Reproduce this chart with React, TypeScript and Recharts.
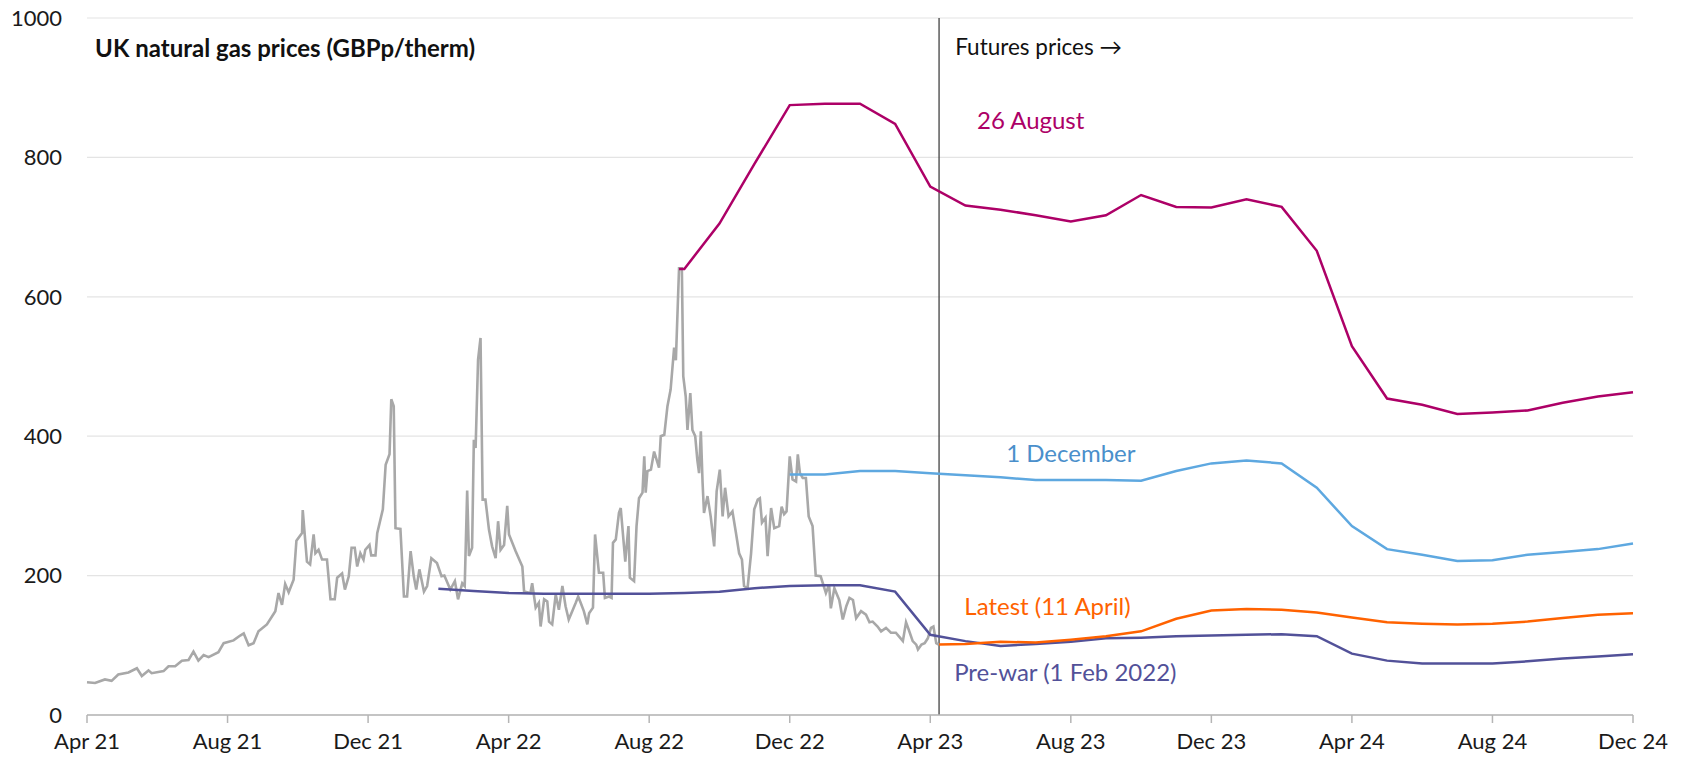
import { LineChart, Line, XAxis, YAxis, CartesianGrid, ReferenceLine, ReferenceDot } from 'recharts'

// x = months since Apr 2021, y = GBPp/therm
const tickLabels = ['Apr 21', 'Aug 21', 'Dec 21', 'Apr 22', 'Aug 22', 'Dec 22', 'Apr 23', 'Aug 23', 'Dec 23', 'Apr 24', 'Aug 24', 'Dec 24']
const yTicks = [0, 200, 400, 600, 800, 1000]
const futuresStart = 24.25

const spot: [number, number][] = [
  [0, 47], [0.23, 46], [0.51, 51], [0.7, 49], [0.89, 58], [1.18, 61], [1.42, 67], [1.56, 56], [1.75, 64], [1.84, 60],
  [2.18, 63], [2.32, 70], [2.51, 70], [2.7, 78], [2.89, 79], [3.03, 91], [3.17, 78], [3.32, 86], [3.46, 83], [3.74, 90],
  [3.89, 103], [4.17, 107], [4.36, 114], [4.46, 117], [4.6, 100], [4.74, 103], [4.88, 120], [5.12, 130], [5.36, 149],
  [5.45, 175], [5.55, 158], [5.64, 188], [5.74, 176], [5.88, 194], [5.96, 250],
  [6.12, 261], [6.14, 294], [6.26, 220], [6.35, 216], [6.45, 259], [6.5, 232], [6.59, 237], [6.69, 223], [6.83, 223],
  [6.93, 166], [7.05, 166], [7.12, 197], [7.26, 203], [7.34, 180], [7.45, 199], [7.53, 240], [7.62, 240], [7.69, 213],
  [7.78, 232], [7.87, 223], [7.92, 237], [8.04, 244], [8.09, 229], [8.21, 229], [8.26, 261], [8.42, 295], [8.5, 359],
  [8.61, 374], [8.66, 453], [8.73, 443], [8.78, 268], [8.92, 267], [9.02, 170], [9.11, 170], [9.21, 235], [9.3, 199],
  [9.37, 180], [9.46, 209], [9.59, 177], [9.68, 185], [9.8, 225], [9.96, 218], [10.09, 199], [10.17, 200], [10.34, 180],
  [10.47, 192], [10.56, 166], [10.68, 189], [10.75, 185], [10.82, 322], [10.87, 228], [10.96, 240], [11.01, 395],
  [11.06, 383], [11.13, 510], [11.2, 541], [11.26, 309], [11.34, 309], [11.44, 266], [11.53, 242], [11.63, 225],
  [11.7, 278], [11.77, 237], [11.87, 244], [11.96, 300],
  [12.01, 259], [12.2, 235], [12.39, 213], [12.44, 177], [12.62, 175], [12.67, 189], [12.77, 154], [12.86, 161],
  [12.91, 127], [13.01, 166], [13.1, 163], [13.15, 134], [13.24, 130], [13.34, 173], [13.43, 151], [13.53, 185],
  [13.62, 156], [13.71, 137], [13.81, 149], [13.91, 161], [13.98, 170], [14.05, 161], [14.14, 149], [14.24, 130],
  [14.29, 146], [14.4, 154], [14.46, 259], [14.57, 204], [14.69, 204], [14.74, 168], [14.86, 170], [14.93, 168],
  [14.97, 247], [15.05, 252], [15.14, 290], [15.19, 297], [15.32, 220], [15.41, 271], [15.45, 197], [15.57, 192],
  [15.64, 271], [15.71, 311], [15.81, 319], [15.86, 371], [15.9, 319], [15.95, 350], [16.05, 352], [16.14, 378],
  [16.28, 355], [16.33, 400], [16.43, 402], [16.52, 443], [16.61, 467], [16.71, 527], [16.76, 509], [16.85, 641],
  [16.93, 641], [16.97, 486], [17.04, 457], [17.09, 409], [17.17, 462], [17.23, 409], [17.31, 400], [17.37, 366],
  [17.42, 347], [17.47, 407], [17.52, 333], [17.56, 290], [17.66, 314], [17.75, 285], [17.85, 242],
  [17.92, 321], [18.01, 352], [18.09, 285], [18.16, 326], [18.26, 285], [18.37, 292], [18.47, 261], [18.56, 232],
  [18.64, 223], [18.7, 185], [18.8, 182], [18.9, 232], [18.99, 295], [19.09, 309], [19.15, 311], [19.21, 276],
  [19.31, 283], [19.37, 228], [19.47, 297], [19.56, 268], [19.7, 271], [19.77, 299], [19.84, 288], [19.91, 292],
  [20.0, 371], [20.08, 338], [20.18, 335], [20.23, 374], [20.29, 347], [20.37, 340], [20.46, 340], [20.54, 285],
  [20.65, 271], [20.74, 200], [20.88, 199], [21.03, 175], [21.12, 187], [21.17, 153], [21.27, 182], [21.41, 165],
  [21.51, 137], [21.61, 156], [21.7, 168], [21.8, 165], [21.89, 139], [22.03, 149], [22.17, 144], [22.27, 133],
  [22.36, 134], [22.5, 127], [22.6, 120], [22.74, 125], [22.88, 118], [23.02, 118], [23.12, 112], [23.22, 106],
  [23.31, 133], [23.39, 122], [23.5, 106], [23.6, 101], [23.65, 94], [23.75, 101], [23.84, 103], [23.93, 110],
  [24.02, 125], [24.09, 127], [24.17, 103], [24.24, 101],
]

const aug26: [number, number][] = [
  [16.85, 640], [17, 640], [18, 705], [19, 791], [20, 875], [21, 877], [22, 877], [23, 848], [24, 758], [25, 731],
  [26, 725], [27, 717], [28, 708], [29, 717], [30, 746], [31, 729], [32, 728], [33, 740], [34, 729], [35, 666],
  [36, 529], [37, 454], [38, 445], [39, 432], [40, 434], [41, 437], [42, 448], [43, 457], [44, 463],
]

const dec1: [number, number][] = [
  [20, 345], [21, 345], [22, 350], [23, 350], [24, 347], [25, 344], [26, 341], [27, 337], [28, 337], [29, 337],
  [30, 336], [31, 350], [32, 361], [33, 365], [34, 361], [35, 326], [36, 271], [37, 238], [38, 230], [39, 221],
  [40, 222], [41, 230], [42, 234], [43, 238], [44, 246],
]

const latest: [number, number][] = [
  [futuresStart, 101], [25, 102], [26, 105], [27, 104], [28, 108], [29, 113], [30, 120], [31, 138], [32, 150],
  [33, 152], [34, 151], [35, 147], [36, 140], [37, 133], [38, 131], [39, 130], [40, 131], [41, 134], [42, 139],
  [43, 144], [44, 146],
]

const preWar: [number, number][] = [
  [10, 181], [11, 178], [12, 175], [13, 174], [14, 174], [15, 174], [16, 174], [17, 175], [18, 177], [19, 182],
  [20, 185], [21, 186], [22, 186], [23, 177], [24, 115], [25, 106], [26, 99], [27, 102], [28, 105], [29, 110],
  [30, 111], [31, 113], [32, 114], [33, 115], [34, 116], [35, 113], [36, 88], [37, 78], [38, 74], [39, 74],
  [40, 74], [41, 77], [42, 81], [43, 84], [44, 87],
]

const FONT = 'Lato, "Noto Sans", sans-serif'

const notes = [
  { m: 0.23, v: 958, text: 'UK natural gas prices (GBPp/therm)', color: '#111', bold: true, size: 24 },
  { m: 24.71, v: 959, text: 'Futures prices \u2192', color: '#111', bold: false, size: 22.5 },
  { m: 25.33, v: 854, text: '26 August', color: '#AD0067', bold: false, size: 24 },
  { m: 26.16, v: 376, text: '1 December', color: '#4A8FCB', bold: false, size: 24 },
  { m: 24.97, v: 157, text: 'Latest (11 April)', color: '#FF6200', bold: false, size: 24 },
  { m: 24.68, v: 62, text: 'Pre-war (1 Feb 2022)', color: '#525199', bold: false, size: 24 },
]

const toPts = (arr: [number, number][]) => arr.map(([m, v]) => ({ m, v }))

export default function App() {
  return (
    <div style={{ position: 'fixed', left: 0, top: 0, background: '#fff' }}>
      <LineChart width={1685} height={763} margin={{ top: 18, right: 52, bottom: 0, left: 0 }}>
        <CartesianGrid vertical={false} stroke="#e4e4e4" strokeWidth={1.2} />
        <XAxis
          type="number"
          dataKey="m"
          domain={[0, 44]}
          ticks={tickLabels.map((_, i) => i * 4)}
          tickFormatter={(v: number) => tickLabels[Math.round(v / 4)]}
          interval={0}
          height={48}
          stroke="#b5b5b5"
          strokeWidth={1.5}
          tickSize={8}
          tickMargin={10}
          tick={{ fontSize: 22, fill: '#1a1a1a', fontFamily: FONT }}
        />
        <YAxis
          type="number"
          domain={[0, 1000]}
          ticks={yTicks}
          width={87}
          axisLine={false}
          tickLine={false}
          tickSize={0}
          tickMargin={25}
          tick={{ fontSize: 22, fill: '#1a1a1a', fontFamily: FONT }}
        />
        <ReferenceLine x={futuresStart} stroke="#333" strokeWidth={1.2} />
        <Line data={toPts(spot)} dataKey="v" stroke="#a8a8a8" strokeWidth={2.6} dot={false} isAnimationActive={false} />
        <Line data={toPts(preWar)} dataKey="v" stroke="#525199" strokeWidth={2.5} dot={false} isAnimationActive={false} />
        <Line data={toPts(aug26)} dataKey="v" stroke="#AD0067" strokeWidth={2.5} dot={false} isAnimationActive={false} />
        <Line data={toPts(dec1)} dataKey="v" stroke="#5EA8E0" strokeWidth={2.5} dot={false} isAnimationActive={false} />
        <Line data={toPts(latest)} dataKey="v" stroke="#FF6200" strokeWidth={2.5} dot={false} isAnimationActive={false} />
        {notes.map((n) => (
          <ReferenceDot
            key={n.text}
            x={n.m}
            y={n.v}
            r={0}
            ifOverflow="visible"
            shape={(p: any) => (
              <text
                x={p.cx}
                y={p.cy}
                dominantBaseline="central"
                fill={n.color}
                fontFamily={FONT}
                fontSize={n.size}
                fontWeight={n.bold ? 700 : 400}
              >
                {n.text}
              </text>
            )}
          />
        ))}
      </LineChart>
    </div>
  )
}
